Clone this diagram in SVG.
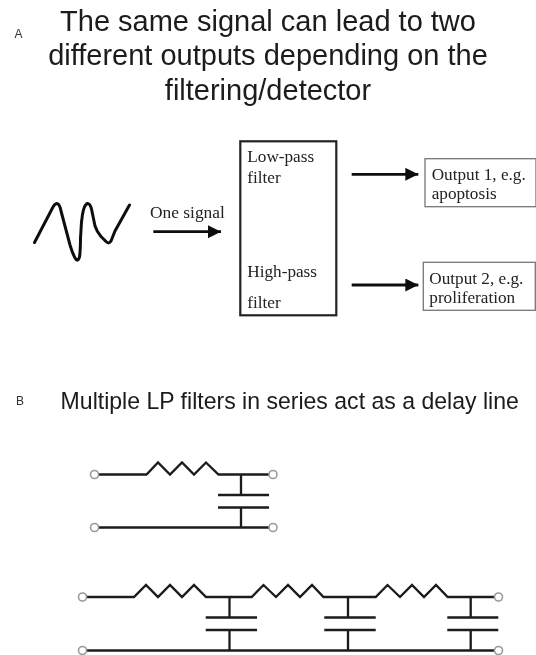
<svg xmlns="http://www.w3.org/2000/svg" width="536" height="655" viewBox="0 0 536 655">
<style>
.t{font-family:"Liberation Sans",Arial,sans-serif;font-size:29px;fill:#1a1a1a;text-anchor:middle}
.l{font-family:"Liberation Sans",Arial,sans-serif;font-size:12px;fill:#333}
.s{font-family:"Liberation Serif","Times New Roman",serif;font-size:17.200px;fill:#222}
.w{fill:none;stroke:#1a1a1a;stroke-width:2.300;stroke-linejoin:miter}
.a{fill:none;stroke:#111;stroke-width:2.800}
.c{fill:#fff;stroke:#999;stroke-width:1.600}
.b{fill:#fff;stroke:#777;stroke-width:1.300}
</style>
<defs>
<marker id="h" markerUnits="userSpaceOnUse" markerWidth="14" markerHeight="14" refX="13" refY="6.500" orient="auto"><path d="M0 0L13 6.500L0 13Z" fill="#111"/></marker>
<filter id="soft" x="0" y="0" width="1" height="1"><feGaussianBlur stdDeviation="0.400"/></filter>
</defs>
<rect width="536" height="655" fill="#fff"/>
<g filter="url(#soft)">
<g id="titles">
<text class="l" x="14.500" y="37.500">A</text>
<text class="t" x="268" y="31">The same signal can lead to two</text>
<text class="t" x="268" y="65">different outputs depending on the</text>
<text class="t" x="268" y="99.500">filtering/detector</text>
<text class="l" x="16" y="404.500">B</text>
<text x="289.700" y="409" class="t" style="font-size:23.050px">Multiple LP filters in series act as a delay line</text>
</g>
<g id="signal"><path d="M34.500 242.500L53 207Q55.500 202.500 58 204Q60 205.500 61 211L70 245Q73 255 76 259.500Q78 261.500 79.500 257Q80.500 250 80.500 238L81.500 222Q83 206 87 203.500Q90 203 91.500 209L95 226Q97 232 101 236.500L106 241.500Q109 244.500 111 241L115 231L129.500 205" fill="none" stroke="#111" stroke-width="3" stroke-linejoin="round" stroke-linecap="round"/></g>
<text id="one-signal" class="s" x="150" y="218.300" style="font-size:17.400px">One signal</text>
<g id="filter">
<rect x="240.300" y="141.300" width="96" height="174" fill="#fff" stroke="#222" stroke-width="2.200"/>
<text class="s" x="247.300" y="162.300">Low-pass</text>
<text class="s" x="247.300" y="182.700">filter</text>
<text class="s" x="247.300" y="276.700">High-pass</text>
<text class="s" x="247.300" y="307.700">filter</text>
</g>
<g id="output1">
<rect class="b" x="425" y="158.700" width="111" height="48"/>
<text class="s" x="431.700" y="180">Output 1, e.g.</text>
<text class="s" x="431.700" y="199.300">apoptosis</text>
</g>
<g id="output2">
<rect class="b" x="423.300" y="262.300" width="112" height="48"/>
<text class="s" x="429.300" y="284">Output 2, e.g.</text>
<text class="s" x="429.300" y="303.300">proliferation</text>
</g>
<g id="connectors">
<path class="a" marker-end="url(#h)" d="M153.300 231.700H221"/>
<path class="a" marker-end="url(#h)" d="M351.700 174.300H418.300"/>
<path class="a" marker-end="url(#h)" d="M351.700 285H418.300"/>
</g>
<g id="circuit-single">
<path class="w" d="M98 474.500H146.500L158 462.500L170 474.500L182 462.500L194 474.500L206 462.500L218.500 474.500H269M241 474.500V495M218 495H269M218 507.500H269M241 507.500V527.500M98 527.500H269"/>
<circle class="c" cx="94.500" cy="474.500" r="4"/><circle class="c" cx="273" cy="474.500" r="4"/>
<circle class="c" cx="94.500" cy="527.500" r="4"/><circle class="c" cx="273" cy="527.500" r="4"/>
</g>
<g id="circuit-series">
<path class="w" d="M86 597H134L146 585L158 597L170 585L182 597L194 585L206 597H251.700L263.500 585L276 597L288 585L300 597L312 585L323.500 597H375.700L387.500 585L400 597L412 585L424 597L436 585L447.700 597H494.500"/>
<path class="w" d="M229.500 597V617.500M205.700 617.500H257M205.700 630H257M229.500 630V650.500M348 597V617.500M324.300 617.500H375.700M324.300 630H375.700M348 630V650.500M470.700 597V617.500M447.300 617.500H498.300M447.300 630H498.300M470.700 630V650.500M86 650.500H494.500"/>
<circle class="c" cx="82.500" cy="597" r="4"/><circle class="c" cx="498.500" cy="597" r="4"/>
<circle class="c" cx="82.500" cy="650.500" r="4"/><circle class="c" cx="498.500" cy="650.500" r="4"/>
</g>
</g>
</svg>
